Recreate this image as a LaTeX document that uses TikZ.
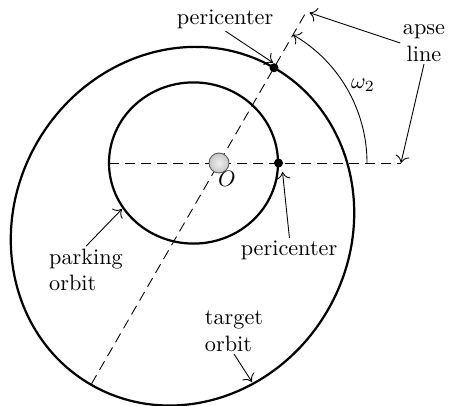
\documentclass[tikz,border=0pt]{standalone}
\usepackage{amsmath, amssymb}
\usepackage{tikz}
\usetikzlibrary{arrows.meta}

\begin{document}
\begin{tikzpicture}[scale=0.01581, >={To[length=3.2pt, width=6.4pt]},
    orbit/.style={line width=1pt},
    apse/.style={thin, dash pattern=on 4.5pt off 2.7pt},
    lbl/.style={align=left, inner sep=1pt},
    ptr/.style={->, thin}]
    \useasboundingbox (-219,-242) rectangle (232,163);
    % points on the orbits
    \coordinate (O) at (0,0);
    \coordinate (peri1) at (60:110);
    \coordinate (peri2) at (59.5,0);
    \coordinate (apseA) at (60:177);
    \coordinate (apseB) at (240:255);
    \coordinate (horA) at (-110,0);
    \coordinate (horB) at (182,0);
    \coordinate (park) at (-97,-46);
    \coordinate (targ) at (33,-219);
    
    \draw[orbit] (-25.5,0) ellipse [x radius=84.5, y radius=80.6];
    \draw[orbit, rotate=60] (-73,0) ellipse [x radius=183, y radius=167.8];
    
    \draw[apse] (horA) -- (horB);
    \draw[apse] (apseB) -- (apseA);
    \draw[->] (148,0) arc[start angle=0, end angle=60, radius=148];
    \node at (144,78) {$\omega_2$};
    
    \filldraw (peri1) circle (4);
    \filldraw (peri2) circle (4);
    \shadedraw[inner color=gray!12, outer color=gray!45, draw=gray!70!black] (O) circle (10);
    \node[lbl] (Olab) at (8,-16) {$O$};
    
    % labels
    \node[lbl] (lperi1) at (6,144) {pericenter};
    \node[lbl] (lperi2) at (70,-87) {pericenter};
    \node[lbl, align=center] (lapse) at (205,120) {apse\\line};
    \node[lbl] (lpark) at (-133,-107) {parking\\orbit};
    \node[lbl] (ltarg) at (15,-168) {target\\orbit};
    
    \draw[ptr] ([xshift=13pt]lperi1.south) -- ([shift={(-1,5)}]peri1);
    \draw[ptr] ([xshift=12pt]lperi2.north) -- ([shift={(4,-9)}]peri2);
    \draw[ptr] (lapse.west) -- ([shift={(2,-3)}]apseA);
    \draw[ptr] (lapse.south) -- ([yshift=3]horB);
    \draw[ptr] ([xshift=2pt]lpark.north) -- (park);
    \draw[ptr] (ltarg.south) -- (targ);
\end{tikzpicture}
\end{document}
